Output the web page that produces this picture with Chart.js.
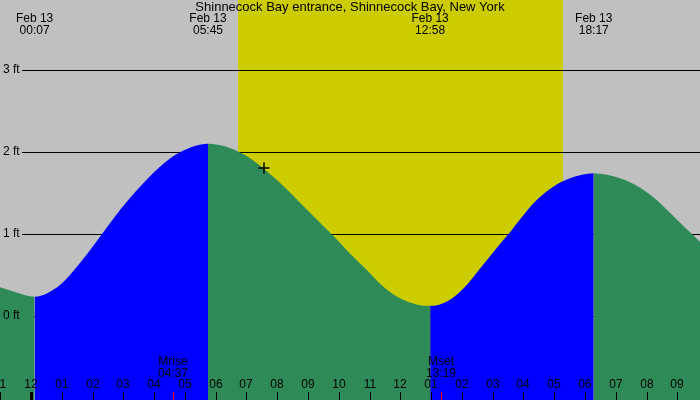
<!DOCTYPE html>
<html>
<head>
<meta charset="utf-8">
<script src="https://cdn.jsdelivr.net/npm/chart.js@4"></script>
<style>
  body { margin: 0; background: #c0c0c0; }
  #wrap { width: 700px; height: 400px; position: relative; }
</style>
</head>
<body>
<div id="wrap"><canvas id="tideChart"></canvas></div>
<script>
// tide curve: hours since midnight Feb 13, height in ft
const tideHours = [-1.007, -0.5, 0.117, 0.942, 1.592, 2.242, 2.891, 3.541, 4.191, 4.841, 5.75,
    6.845, 7.927, 8.74, 9.39, 9.77, 10.36, 10.91, 11.45, 11.99, 12.53, 12.967,
    13.5, 14.05, 14.59, 15.13, 15.51, 15.89, 16.43, 16.97, 17.51, 18.283,
    19.14, 19.68, 20.22, 20.76, 21.3, 21.735];
const tideFeet = [0.35, 0.29, 0.235, 0.378, 0.646, 0.967, 1.293, 1.577, 1.821, 1.996, 2.10,
    1.984, 1.679, 1.382, 1.138, 0.996, 0.764, 0.561, 0.357, 0.216, 0.142, 0.124,
    0.175, 0.337, 0.581, 0.83, 0.996, 1.18, 1.415, 1.577, 1.679, 1.74,
    1.68, 1.59, 1.45, 1.26, 1.06, 0.906];

const eventDate = 'Feb 13';
const eventTimes = ['00:07', '05:45', '12:58', '18:17'];   // highs and lows
const sunTimes = ['06:44', '17:17'];                     // daylight band
const moonLabels = ['Mrise', 'Mset'];
const moonTimes = ['04:37', '13:19'];
const ftTicks = [0, 1, 2, 3];
const hourTicks = [-1, 0, 1, 2, 3, 4, 5, 6, 7, 8, 9, 10, 11, 12, 13, 14, 15, 16, 17, 18, 19, 20, 21];
const markerHour = [7.57];
const markerFeet = [1.805];
const title = 'Shinnecock Bay entrance, Shinnecock Bay, New York';

const toHours = t => { const [h, m] = t.split(':').map(Number); return h + m / 60; };
const hourLabel = h => String(((h + 23) % 12) + 1).padStart(2, '0');

const FONT = '"Liberation Sans", Arial, sans-serif';
const RISE = '#0000ff', FALL = '#2e8b57';

const tidePlugin = {
    id: 'tideDecor',
    beforeDatasetsDraw(chart) {
        const {ctx, chartArea: a, scales: {x, y}} = chart;
        ctx.save();
        ctx.fillStyle = '#c0c0c0';
        ctx.fillRect(a.left, a.top, a.right - a.left, a.bottom - a.top);
        const s0 = x.getPixelForValue(toHours(sunTimes[0]));
        const s1 = x.getPixelForValue(toHours(sunTimes[1]));
        ctx.fillStyle = '#cccc00';
        ctx.fillRect(Math.round(s0), a.top, Math.round(s1 - s0), a.bottom - a.top);
        ctx.strokeStyle = '#000';
        ctx.lineWidth = 1;
        ftTicks.forEach(f => {
            const py = Math.round(y.getPixelForValue(f)) + 0.5;
            ctx.beginPath();
            ctx.moveTo(22, py);
            ctx.lineTo(a.right, py);
            ctx.stroke();
        });
        ctx.restore();
    },
    afterDatasetsDraw(chart) {
        const {ctx, chartArea: a, scales: {x, y}} = chart;
        ctx.save();
        ctx.fillStyle = '#000';
        ctx.textBaseline = 'middle';
        ctx.font = '12px ' + FONT;
        ctx.textAlign = 'left';
        ftTicks.forEach(f => ctx.fillText(f + ' ft', 3, Math.round(y.getPixelForValue(f))));

        ctx.textAlign = 'center';
        hourTicks.forEach(h => {
            const px = Math.round(x.getPixelForValue(h));
            ctx.fillText(hourLabel(h), px, 385);
            ctx.fillRect(h % 24 === 0 ? px - 1 : px, 392, h % 24 === 0 ? 3 : 1, 8);
        });

        moonTimes.forEach((t, i) => {
            const px = Math.round(x.getPixelForValue(toHours(t)));
            ctx.fillStyle = '#000';
            ctx.fillText(moonLabels[i], px, 362);
            ctx.fillText(t, px, 374);
            ctx.fillStyle = '#ff0000';
            ctx.fillRect(px, 392, 1, 8);
        });

        ctx.fillStyle = '#000';
        eventTimes.forEach(t => {
            const px = x.getPixelForValue(toHours(t));
            ctx.fillText(eventDate, px, 19);
            ctx.fillText(t, px, 31);
        });
        ctx.font = '13px ' + FONT;
        ctx.fillText(title, (a.left + a.right) / 2, 7);
        ctx.restore();
    }
};

new Chart(document.getElementById('tideChart'), {
    type: 'line',
    data: {
        datasets: [
            {
                data: tideHours.map((h, i) => ({x: h, y: tideFeet[i]})),
                order: 2,
                fill: 'start',
                borderWidth: 0,
                pointRadius: 0,
                cubicInterpolationMode: 'monotone',
                backgroundColor: FALL,
                borderColor: 'rgba(0,0,0,0)',
                segment: {
                    backgroundColor: c => c.p1.parsed.y > c.p0.parsed.y ? RISE : FALL
                }
            },
            {
                data: markerHour.map((h, i) => ({x: h, y: markerFeet[i]})),
                order: 1,
                showLine: false,
                pointStyle: 'cross',
                pointRadius: 5.5,
                borderWidth: 1.5,
                borderColor: '#000',
                fill: false
            }
        ]
    },
    options: {
        responsive: true,
        maintainAspectRatio: false,
        animation: false,
        events: [],
        layout: {padding: 0, autoPadding: false},
        scales: {
            x: {type: 'linear', display: false, min: -1.007, max: 21.735},
            y: {type: 'linear', display: false, min: -1.024, max: 3.854}
        },
        plugins: {legend: {display: false}, tooltip: {enabled: false}}
    },
    plugins: [tidePlugin]
});
</script>
</body>
</html>
